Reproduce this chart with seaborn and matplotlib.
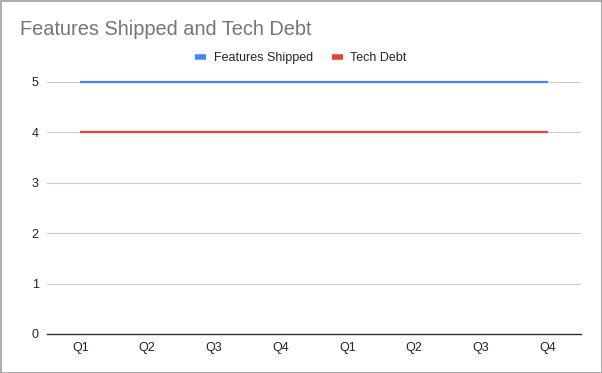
import matplotlib
matplotlib.use("Agg")
import matplotlib.pyplot as plt
import seaborn as sns
import pandas as pd
from matplotlib.patches import Rectangle
from matplotlib.lines import Line2D

quarters = ["Q1", "Q2", "Q3", "Q4", "Q1", "Q2", "Q3", "Q4"]
features_shipped = [5, 5, 5, 5, 5, 5, 5, 5]
tech_debt = [4, 4, 4, 4, 4, 4, 4, 4]
y_ticks = [0, 1, 2, 3, 4, 5]

sns.set_theme(style="white")
plt.rcParams['font.family'] = ['Liberation Sans', 'DejaVu Sans']

idx = list(range(len(quarters)))
df = pd.DataFrame({
    "idx": idx * 2,
    "value": features_shipped + tech_debt,
    "series": ["Features Shipped"] * len(idx) + ["Tech Debt"] * len(idx),
})

fig = plt.figure(figsize=(6.02, 3.73), dpi=100)
ax = fig.add_axes([47/602, 1 - 334/373, (581 - 47)/602, (334 - 82)/373])

sns.lineplot(data=df, x="idx", y="value", hue="series",
             palette={"Features Shipped": "#4285F4", "Tech Debt": "#EA4335"},
             linewidth=1.6, ax=ax, legend=False)
for ln in ax.lines:
    ln.set_clip_on(False)
    ln.set_solid_capstyle("butt")

ax.set_xlim(-0.5, len(idx) - 0.5)
ax.set_ylim(0, 5)
ax.set_yticks(y_ticks)
ax.set_yticklabels([str(t) for t in y_ticks])
ax.set_xticks(idx)
ax.set_xticklabels(quarters)
ax.set_xlabel("")
ax.set_ylabel("")
ax.grid(axis="y", color="#cccccc", linewidth=0.8)
ax.set_axisbelow(True)
for s in ["top", "right", "left"]:
    ax.spines[s].set_visible(False)
ax.spines["bottom"].set_color("#333333")
ax.spines["bottom"].set_linewidth(1.0)
ax.tick_params(axis="both", length=0, labelsize=9, colors="#222222", pad=6)

fig.text(20/602, 1 - 35/373, "Features Shipped and Tech Debt", fontsize=14.4,
         color="#757575", va="baseline", ha="left")

handles = [Line2D([0], [0], color="#4285F4", lw=4, solid_capstyle="butt"),
           Line2D([0], [0], color="#EA4335", lw=4, solid_capstyle="butt")]
fig.legend(handles, ["Features Shipped", "Tech Debt"], loc="center",
           bbox_to_anchor=(0.5, 1 - 58/373), ncol=2, frameon=False,
           fontsize=9, handlelength=0.9, columnspacing=1.5, handletextpad=0.6)

fig.patches.append(Rectangle((0.5/602, 0.5/373), 1 - 1/602, 1 - 1/373,
                             transform=fig.transFigure, fill=False,
                             edgecolor="#9e9e9e", linewidth=1.2))

fig.savefig("out.png", dpi=100, facecolor="white")
